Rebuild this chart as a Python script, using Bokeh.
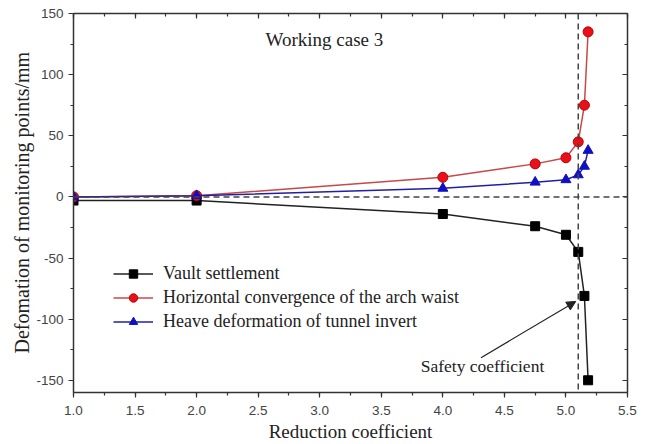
from bokeh.plotting import figure
from bokeh.models import (Range1d, LinearAxis, SingleIntervalTicker, Span, Arrow,
                          NormalHead, Label, Legend, LegendItem, PrintfTickFormatter, Title)
from bokeh.embed import file_html
from bokeh.resources import INLINE

# data
reduction = [1.0, 2.0, 4.0, 4.75, 5.0, 5.1, 5.15, 5.18]
vault_settlement = [-3, -3, -14, -24, -31, -45, -81, -150]
arch_waist = [0, 1, 16, 27, 32, 45, 75, 135]
invert_heave = [0, 1, 7, 12, 14, 18, 25, 38]
safety_coefficient = 5.1

SERIF = "Liberation Serif"
SANS = "Liberation Sans"

p = figure(width=640, height=444, output_backend="svg", toolbar_location=None,
           x_range=Range1d(1.0, 5.5), y_range=Range1d(-160, 150),
           x_axis_location=None, y_axis_location=None,
           min_border_left=73, min_border_right=13, min_border_top=13, min_border_bottom=52)
p.xgrid.visible = False
p.ygrid.visible = False
p.outline_line_color = None
p.background_fill_color = "white"
p.border_fill_color = "white"

xt = SingleIntervalTicker(interval=0.5, num_minor_ticks=2)
yt = SingleIntervalTicker(interval=50, num_minor_ticks=2)

def style(ax, labels=True, inside=False):
    ax.axis_line_color = "#333333"
    ax.axis_line_width = 1.5
    ax.major_tick_line_color = "#333333"
    ax.minor_tick_line_color = "#333333"
    ax.major_tick_line_width = 1.2
    ax.minor_tick_line_width = 1.2
    if inside:
        ax.major_tick_in, ax.major_tick_out = 5, 0
        ax.minor_tick_in, ax.minor_tick_out = 3, 0
    else:
        ax.major_tick_in, ax.major_tick_out = 0, 5
        ax.minor_tick_in, ax.minor_tick_out = 0, 3
    if labels:
        ax.major_label_text_font = SANS
        ax.major_label_text_font_size = "13.5px"
        ax.major_label_text_color = "#444444"
        ax.axis_label_text_font = SERIF
        ax.axis_label_text_font_size = "19px"
        ax.axis_label_text_font_style = "normal"
        ax.axis_label_text_color = "#222222"
    else:
        ax.major_label_text_font_size = "0px"
        ax.major_label_text_alpha = 0

xb = LinearAxis(ticker=xt, axis_label="Reduction coefficient",
                formatter=PrintfTickFormatter(format="%.1f"))
style(xb)
xb.major_label_standoff = 8
xb.axis_label_standoff = 3
p.add_layout(xb, "below")

yl = LinearAxis(ticker=yt, formatter=PrintfTickFormatter(format="%d"))
style(yl)
yl.major_label_standoff = 5
p.add_layout(yl, "left")

# y axis title, placed slightly above the frame centre as in the reference
ytitle = Title(text="Defomation of monitoring points/mm", align="left", offset=39,
               text_font=SERIF, text_font_size="20px", text_font_style="normal",
               text_color="#222222", standoff=2)
p.add_layout(ytitle, "left")

xa = LinearAxis(ticker=xt)
style(xa, labels=False, inside=True)
p.add_layout(xa, "above")

yr = LinearAxis(ticker=yt)
style(yr, labels=False, inside=True)
p.add_layout(yr, "right")

# reference lines
p.add_layout(Span(location=0, dimension="width", line_color="#444444",
                  line_dash="6 4", line_width=1.5))
p.add_layout(Span(location=safety_coefficient, dimension="height", line_color="#444444",
                  line_dash="6 4", line_width=1.5))

# series
l1 = p.line(reduction, vault_settlement, line_color="#222222", line_width=1.5)
s1 = p.scatter(reduction, vault_settlement, marker="square", size=9,
               fill_color="black", line_color="black")
l2 = p.line(reduction, arch_waist, line_color="#c84848", line_width=1.5)
s2 = p.scatter(reduction, arch_waist, marker="circle", size=10,
               fill_color="#e8101a", line_color="#c00000")
l3 = p.line(reduction, invert_heave, line_color="#2020a0", line_width=1.5)
s3 = p.scatter(reduction, invert_heave, marker="triangle", size=10,
               fill_color="#1010c0", line_color="#1010c0")

legend = Legend(items=[
    LegendItem(label="Vault settlement", renderers=[l1, s1]),
    LegendItem(label="Horizontal convergence of the arch waist", renderers=[l2, s2]),
    LegendItem(label="Heave deformation of tunnel invert", renderers=[l3, s3]),
], location=(40, 60))
legend.label_text_font = SERIF
legend.label_text_font_size = "18px"
legend.label_text_color = "#222222"
legend.glyph_width = 40
legend.glyph_height = 21
legend.label_height = 21
legend.spacing = 3
legend.padding = 0
legend.margin = 0
legend.label_standoff = 10
legend.border_line_alpha = 0
legend.background_fill_alpha = 0
p.add_layout(legend, "center")

# annotations
p.add_layout(Label(x=2.56, y=128.5, text="Working case 3", text_font=SERIF,
                   text_font_size="19px", text_color="#222222", text_baseline="middle"))
p.add_layout(Label(x=3.82, y=-138, text="Safety coefficient", text_font=SERIF,
                   text_font_size="17.5px", text_color="#222222", text_baseline="middle"))
p.add_layout(Arrow(x_start=4.31, y_start=-131.5, x_end=5.08, y_end=-85.5,
                   line_color="#222222", line_width=1.2,
                   end=NormalHead(size=9, fill_color="#222222", line_color="#222222")))

open("out.html", "w").write(file_html(p, INLINE))
